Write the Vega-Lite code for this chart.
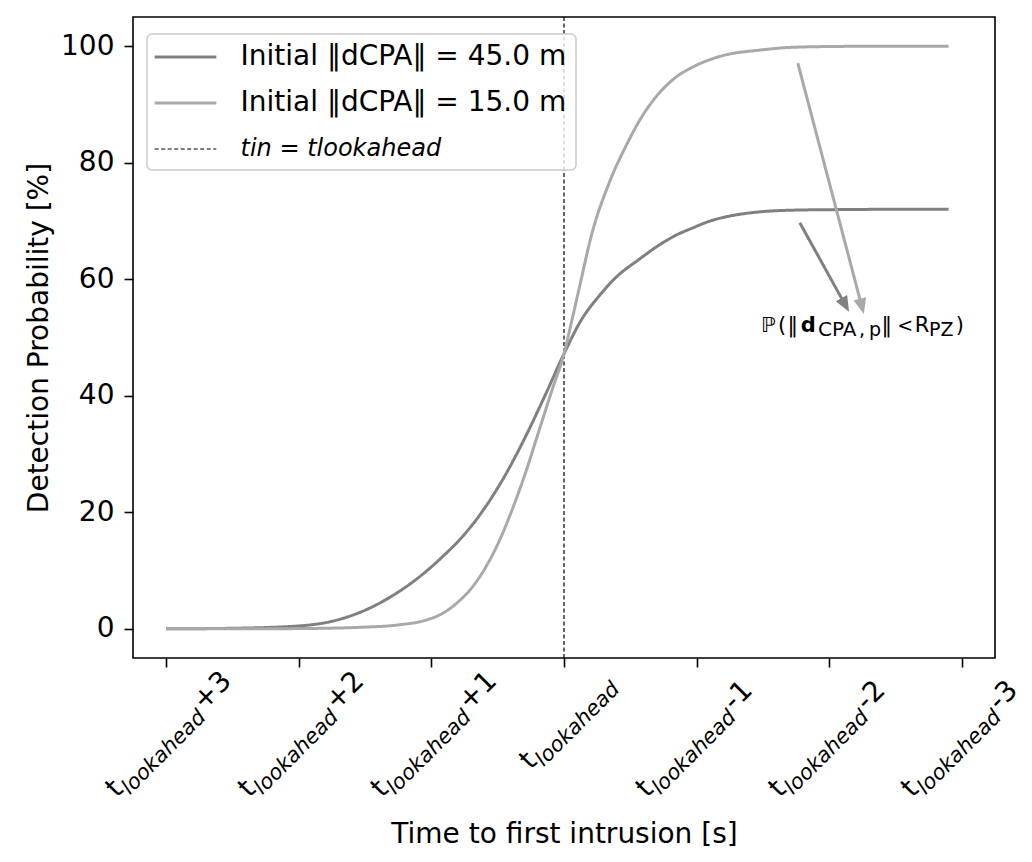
{
  "$schema": "https://vega.github.io/schema/vega-lite/v6.json",
  "width": 862,
  "height": 641,
  "autosize": {"type": "none"},
  "padding": {"left": 133, "top": 17, "right": 37, "bottom": 204},
  "background": "white",
  "config": {
    "font": "DejaVu Sans",
    "view": {"stroke": "black", "strokeWidth": 1.6},
    "axis": {
      "grid": false, "domain": false,
      "labelColor": "black", "labelFont": "DejaVu Sans", "labelFontSize": 28,
      "tickColor": "black", "tickWidth": 1.6, "tickSize": 9,
      "titleColor": "black", "titleFont": "DejaVu Sans", "titleFontSize": 28, "titleFontWeight": "normal",
      "labelOverlap": false, "labelFlush": false, "labelBound": false
    },
    "legend": {"strokeWidth": 1.5}
  },
  "datasets": {
    "curves": [
      {"series": "Initial ‖dCPA‖ = 45.0 m", "t": 3.0, "p": 0},
      {"series": "Initial ‖dCPA‖ = 45.0 m", "t": 2.5, "p": 0.1},
      {"series": "Initial ‖dCPA‖ = 45.0 m", "t": 2.0, "p": 0.5},
      {"series": "Initial ‖dCPA‖ = 45.0 m", "t": 1.75, "p": 1.3},
      {"series": "Initial ‖dCPA‖ = 45.0 m", "t": 1.5, "p": 3.2},
      {"series": "Initial ‖dCPA‖ = 45.0 m", "t": 1.3, "p": 5.6},
      {"series": "Initial ‖dCPA‖ = 45.0 m", "t": 1.12, "p": 8.4},
      {"series": "Initial ‖dCPA‖ = 45.0 m", "t": 0.92, "p": 12.3},
      {"series": "Initial ‖dCPA‖ = 45.0 m", "t": 0.74, "p": 16.5},
      {"series": "Initial ‖dCPA‖ = 45.0 m", "t": 0.59, "p": 21.0},
      {"series": "Initial ‖dCPA‖ = 45.0 m", "t": 0.44, "p": 26.5},
      {"series": "Initial ‖dCPA‖ = 45.0 m", "t": 0.29, "p": 33.0},
      {"series": "Initial ‖dCPA‖ = 45.0 m", "t": 0.14, "p": 40.2},
      {"series": "Initial ‖dCPA‖ = 45.0 m", "t": 0.0, "p": 47.2},
      {"series": "Initial ‖dCPA‖ = 45.0 m", "t": -0.13, "p": 53.0},
      {"series": "Initial ‖dCPA‖ = 45.0 m", "t": -0.26, "p": 57.0},
      {"series": "Initial ‖dCPA‖ = 45.0 m", "t": -0.4, "p": 60.5},
      {"series": "Initial ‖dCPA‖ = 45.0 m", "t": -0.56, "p": 63.3},
      {"series": "Initial ‖dCPA‖ = 45.0 m", "t": -0.72, "p": 65.9},
      {"series": "Initial ‖dCPA‖ = 45.0 m", "t": -0.84, "p": 67.5},
      {"series": "Initial ‖dCPA‖ = 45.0 m", "t": -0.97, "p": 68.8},
      {"series": "Initial ‖dCPA‖ = 45.0 m", "t": -1.09, "p": 69.9},
      {"series": "Initial ‖dCPA‖ = 45.0 m", "t": -1.22, "p": 70.7},
      {"series": "Initial ‖dCPA‖ = 45.0 m", "t": -1.34, "p": 71.2},
      {"series": "Initial ‖dCPA‖ = 45.0 m", "t": -1.47, "p": 71.55},
      {"series": "Initial ‖dCPA‖ = 45.0 m", "t": -1.72, "p": 71.85},
      {"series": "Initial ‖dCPA‖ = 45.0 m", "t": -2.07, "p": 71.95},
      {"series": "Initial ‖dCPA‖ = 45.0 m", "t": -2.5, "p": 72.0},
      {"series": "Initial ‖dCPA‖ = 45.0 m", "t": -2.9, "p": 72.0},
      {"series": "Initial ‖dCPA‖ = 15.0 m", "t": 3.0, "p": 0},
      {"series": "Initial ‖dCPA‖ = 15.0 m", "t": 2.5, "p": 0},
      {"series": "Initial ‖dCPA‖ = 15.0 m", "t": 2.0, "p": 0.05},
      {"series": "Initial ‖dCPA‖ = 15.0 m", "t": 1.5, "p": 0.3},
      {"series": "Initial ‖dCPA‖ = 15.0 m", "t": 1.24, "p": 0.7},
      {"series": "Initial ‖dCPA‖ = 15.0 m", "t": 1.04, "p": 1.5},
      {"series": "Initial ‖dCPA‖ = 15.0 m", "t": 0.92, "p": 2.6},
      {"series": "Initial ‖dCPA‖ = 15.0 m", "t": 0.79, "p": 4.8},
      {"series": "Initial ‖dCPA‖ = 15.0 m", "t": 0.69, "p": 7.2},
      {"series": "Initial ‖dCPA‖ = 15.0 m", "t": 0.59, "p": 10.6},
      {"series": "Initial ‖dCPA‖ = 15.0 m", "t": 0.49, "p": 15.0},
      {"series": "Initial ‖dCPA‖ = 15.0 m", "t": 0.39, "p": 20.5},
      {"series": "Initial ‖dCPA‖ = 15.0 m", "t": 0.29, "p": 26.8},
      {"series": "Initial ‖dCPA‖ = 15.0 m", "t": 0.19, "p": 33.9},
      {"series": "Initial ‖dCPA‖ = 15.0 m", "t": 0.09, "p": 41.0},
      {"series": "Initial ‖dCPA‖ = 15.0 m", "t": 0.0, "p": 47.2},
      {"series": "Initial ‖dCPA‖ = 15.0 m", "t": -0.05, "p": 52.0},
      {"series": "Initial ‖dCPA‖ = 15.0 m", "t": -0.12, "p": 59.0},
      {"series": "Initial ‖dCPA‖ = 15.0 m", "t": -0.21, "p": 67.8},
      {"series": "Initial ‖dCPA‖ = 15.0 m", "t": -0.34, "p": 76.5},
      {"series": "Initial ‖dCPA‖ = 15.0 m", "t": -0.47, "p": 83.0},
      {"series": "Initial ‖dCPA‖ = 15.0 m", "t": -0.59, "p": 88.0},
      {"series": "Initial ‖dCPA‖ = 15.0 m", "t": -0.72, "p": 92.0},
      {"series": "Initial ‖dCPA‖ = 15.0 m", "t": -0.84, "p": 94.6},
      {"series": "Initial ‖dCPA‖ = 15.0 m", "t": -0.97, "p": 96.4},
      {"series": "Initial ‖dCPA‖ = 15.0 m", "t": -1.09, "p": 97.6},
      {"series": "Initial ‖dCPA‖ = 15.0 m", "t": -1.22, "p": 98.5},
      {"series": "Initial ‖dCPA‖ = 15.0 m", "t": -1.47, "p": 99.3},
      {"series": "Initial ‖dCPA‖ = 15.0 m", "t": -1.72, "p": 99.8},
      {"series": "Initial ‖dCPA‖ = 15.0 m", "t": -2.07, "p": 99.95},
      {"series": "Initial ‖dCPA‖ = 15.0 m", "t": -2.5, "p": 100},
      {"series": "Initial ‖dCPA‖ = 15.0 m", "t": -2.9, "p": 100}
    ],
    "vline": [
      {"series": "tin = tlookahead", "t": 0}
    ],
    "arrows": [
      {"arrow": "45", "t": -1.778, "p": 69.7, "t2": -2.135, "p2": 55.0},
      {"arrow": "15", "t": -1.763, "p": 97.1, "t2": -2.253, "p2": 54.7}
    ],
    "note": [
      {"t": -1.486, "p": 50.9}
    ]
  },
  "resolve": {"axis": {"x": "independent"}},
  "layer": [
    {
      "data": {"name": "vline"},
      "mark": {"type": "rule", "strokeWidth": 1.2},
      "encoding": {
        "x": {
          "field": "t", "type": "quantitative",
          "scale": {"domain": [-3.25, 3.25], "reverse": true, "nice": false, "zero": false},
          "axis": {
            "orient": "bottom", "values": [-3, -2, -1, 0, 1, 2, 3], "title": null,
            "labelExpr": "'lookahead'", "labelAngle": -45, "labelAlign": "left", "labelBaseline": "alphabetic",
            "labelFontSize": 21, "labelFontStyle": "italic", "tickOpacity": 0,
            "labelOffset": {"condition": {"test": "datum.value == 0", "value": -20.9}, "value": -36.9},
            "labelPadding": {"condition": {"test": "datum.value == 0", "value": 99.8}, "value": 127.8}
          }
        },
        "color": {
          "field": "series", "type": "nominal",
          "scale": {"domain": ["Initial ‖dCPA‖ = 45.0 m", "Initial ‖dCPA‖ = 15.0 m", "tin = tlookahead"], "range": ["#808080", "#a9a9a9", "#000000"]},
          "legend": {
            "title": null, "orient": "none", "legendX": 14, "legendY": 17,
            "fillColor": "rgba(255,255,255,0.8)", "strokeColor": "#cccccc", "cornerRadius": 5, "padding": 9,
            "rowPadding": 18, "symbolType": "stroke", "symbolSize": 3800, "symbolStrokeWidth": 3, "symbolOffset": 15.5,
            "labelFontSize": 28, "labelFont": "DejaVu Sans", "labelColor": "black", "labelOffset": 41, "labelLimit": 0,
            "encode": {
              "labels": {"update": {
                "fontStyle": {"signal": "datum.value == 'tin = tlookahead' ? 'italic' : 'normal'"},
                "fontSize": {"signal": "datum.value == 'tin = tlookahead' ? 24 : 28"}
              }},
              "symbols": {"update": {
                "strokeWidth": {"signal": "datum.value == 'tin = tlookahead' ? 1.2 : 3"}
              }}
            }
          }
        },
        "strokeDash": {
          "field": "series", "type": "nominal",
          "scale": {"domain": ["Initial ‖dCPA‖ = 45.0 m", "Initial ‖dCPA‖ = 15.0 m", "tin = tlookahead"], "range": [[1, 0], [1, 0], [4, 2.5]]},
          "legend": {
            "title": null, "orient": "none", "legendX": 14, "legendY": 17,
            "fillColor": "rgba(255,255,255,0.8)", "strokeColor": "#cccccc", "cornerRadius": 5, "padding": 9,
            "rowPadding": 18, "symbolType": "stroke", "symbolSize": 3800, "symbolStrokeWidth": 3, "symbolOffset": 15.5,
            "labelFontSize": 28, "labelFont": "DejaVu Sans", "labelColor": "black", "labelOffset": 41, "labelLimit": 0
          }
        }
      }
    },
    {
      "data": {"name": "curves"},
      "mark": {"type": "line", "strokeWidth": 3, "interpolate": "monotone"},
      "encoding": {
        "x": {
          "field": "t", "type": "quantitative",
          "scale": {"domain": [-3.25, 3.25], "reverse": true, "nice": false, "zero": false},
          "axis": {
            "orient": "bottom", "values": [-3, -2, -1, 0, 1, 2, 3],
            "title": "Time to first intrusion [s]", "titleY": 184, "titleBaseline": "alphabetic",
            "labelExpr": "'t'", "labelAngle": -45, "labelAlign": "left", "labelBaseline": "alphabetic",
            "labelFontSize": 28,
            "labelOffset": {"condition": {"test": "datum.value == 0", "value": -34}, "value": -50},
            "labelPadding": {"condition": {"test": "datum.value == 0", "value": 103}, "value": 131}
          }
        },
        "y": {
          "field": "p", "type": "quantitative",
          "scale": {"domain": [-5, 105], "nice": false, "zero": false},
          "axis": {
            "values": [0, 20, 40, 60, 80, 100], "labelPadding": 10,
            "title": "Detection Probability [%]", "titleX": -86, "titleY": 320.5,
            "titleAlign": "center", "titleBaseline": "alphabetic", "titleAngle": -90
          }
        },
        "color": {
          "field": "series", "type": "nominal",
          "scale": {"domain": ["Initial ‖dCPA‖ = 45.0 m", "Initial ‖dCPA‖ = 15.0 m", "tin = tlookahead"], "range": ["#808080", "#a9a9a9", "#000000"]}
        },
        "strokeDash": {
          "field": "series", "type": "nominal",
          "scale": {"domain": ["Initial ‖dCPA‖ = 45.0 m", "Initial ‖dCPA‖ = 15.0 m", "tin = tlookahead"], "range": [[1, 0], [1, 0], [4, 2.5]]}
        }
      }
    },
    {
      "data": {"name": "arrows"},
      "mark": {"type": "rule", "strokeWidth": 3},
      "encoding": {
        "x": {
          "field": "t", "type": "quantitative",
          "scale": {"domain": [-3.25, 3.25], "reverse": true, "nice": false, "zero": false},
          "axis": {
            "orient": "bottom", "values": [-3, -2, -1, 1, 2, 3], "title": null,
            "labelExpr": "datum.value > 0 ? '+' + datum.value : '-' + abs(datum.value)",
            "labelAngle": -45, "labelAlign": "left", "labelBaseline": "alphabetic",
            "labelFontSize": 28, "tickOpacity": 0,
            "labelOffset": 37, "labelPadding": 44
          }
        },
        "y": {
          "field": "p", "type": "quantitative",
          "scale": {"domain": [-5, 105], "nice": false, "zero": false},
          "axis": {
            "values": [0, 20, 40, 60, 80, 100], "labelPadding": 10,
            "title": "Detection Probability [%]", "titleX": -86, "titleY": 320.5,
            "titleAlign": "center", "titleBaseline": "alphabetic", "titleAngle": -90
          }
        },
        "x2": {"field": "t2"},
        "y2": {"field": "p2"},
        "color": {"condition": {"test": "datum.arrow == '45'", "value": "#808080"}, "value": "#a9a9a9"}
      }
    },
    {
      "data": {"name": "arrows"},
      "mark": {"type": "point", "filled": true, "size": 676, "shape": "M0,-0.3L-0.5,0.9L0.5,0.9Z", "opacity": 1, "strokeWidth": 0},
      "encoding": {
        "x": {"field": "t2", "type": "quantitative", "scale": {"domain": [-3.25, 3.25], "reverse": true, "nice": false, "zero": false}, "axis": null},
        "y": {
          "field": "p2", "type": "quantitative",
          "scale": {"domain": [-5, 105], "nice": false, "zero": false},
          "axis": {
            "values": [0, 20, 40, 60, 80, 100], "labelPadding": 10,
            "title": "Detection Probability [%]", "titleX": -86, "titleY": 320.5,
            "titleAlign": "center", "titleBaseline": "alphabetic", "titleAngle": -90
          }
        },
        "color": {"condition": {"test": "datum.arrow == '45'", "value": "#808080"}, "value": "#a9a9a9"},
        "angle": {"condition": {"test": "datum.arrow == '45'", "value": 151.1}, "value": 165.3}
      }
    },
    {
      "data": {"name": "note"},
      "encoding": {
        "x": {"field": "t", "type": "quantitative", "scale": {"domain": [-3.25, 3.25], "reverse": true, "nice": false, "zero": false}, "axis": null},
        "y": {
          "field": "p", "type": "quantitative",
          "scale": {"domain": [-5, 105], "nice": false, "zero": false},
          "axis": {
            "values": [0, 20, 40, 60, 80, 100], "labelPadding": 10,
            "title": "Detection Probability [%]", "titleX": -86, "titleY": 320.5,
            "titleAlign": "center", "titleBaseline": "alphabetic", "titleAngle": -90
          }
        }
      },
      "layer": [
        {"mark": {"type": "text", "text": "ℙ", "align": "left", "baseline": "alphabetic", "font": "DejaVu Sans", "fontSize": 21, "color": "black", "dx": 0}},
        {"mark": {"type": "text", "text": "(", "align": "left", "baseline": "alphabetic", "font": "DejaVu Sans", "fontSize": 21, "color": "black", "dx": 17}},
        {"mark": {"type": "text", "text": "‖", "align": "left", "baseline": "alphabetic", "font": "DejaVu Sans", "fontSize": 21, "color": "black", "dx": 26.5}},
        {"mark": {"type": "text", "text": "d", "align": "left", "baseline": "alphabetic", "font": "DejaVu Sans", "fontSize": 21, "fontWeight": "bold", "color": "black", "dx": 39.7}},
        {"mark": {"type": "text", "text": "CPA", "align": "left", "baseline": "alphabetic", "font": "DejaVu Sans", "fontSize": 20, "color": "black", "dx": 57, "dy": 4}},
        {"mark": {"type": "text", "text": ",", "align": "left", "baseline": "alphabetic", "font": "DejaVu Sans", "fontSize": 19, "color": "black", "dx": 98, "dy": 4}},
        {"mark": {"type": "text", "text": "p", "align": "left", "baseline": "alphabetic", "font": "DejaVu Sans", "fontSize": 19, "color": "black", "dx": 108, "dy": 4}},
        {"mark": {"type": "text", "text": "‖", "align": "left", "baseline": "alphabetic", "font": "DejaVu Sans", "fontSize": 21, "color": "black", "dx": 120.5}},
        {"mark": {"type": "text", "text": "<", "align": "left", "baseline": "alphabetic", "font": "DejaVu Sans", "fontSize": 19, "color": "black", "dx": 136.3}},
        {"mark": {"type": "text", "text": "R", "align": "left", "baseline": "alphabetic", "font": "DejaVu Sans", "fontSize": 21, "color": "black", "dx": 153.7}},
        {"mark": {"type": "text", "text": "PZ", "align": "left", "baseline": "alphabetic", "font": "DejaVu Sans", "fontSize": 19, "color": "black", "dx": 168, "dy": 4}},
        {"mark": {"type": "text", "text": ")", "align": "left", "baseline": "alphabetic", "font": "DejaVu Sans", "fontSize": 21, "color": "black", "dx": 194.7}}
      ]
    }
  ]
}
